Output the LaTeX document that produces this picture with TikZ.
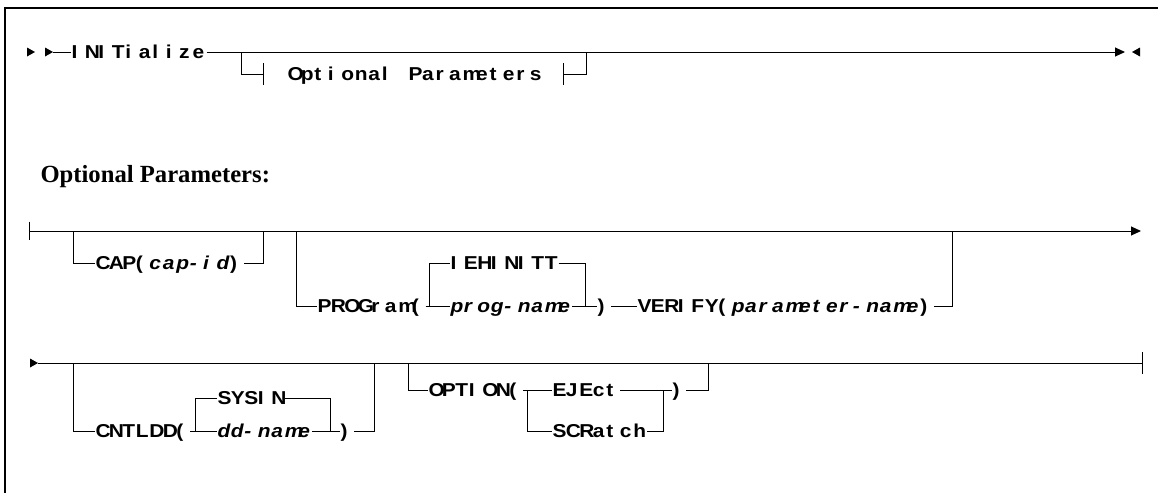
\documentclass[tikz,border=0pt]{standalone}
\usepackage{fontspec}
\newfontfamily\rrfont{Liberation Sans}[FakeStretch=1.12]
\newfontfamily\hdfont{Liberation Serif}
\usetikzlibrary{arrows.meta}

% fixed cells for the syntax words
\ExplSyntaxOn
\dim_new:N \l_rr_cell_dim
\dim_set:Nn \l_rr_cell_dim {10.1pt}
\cs_new_protected:Npn \rr_cell:n #1 { \makebox[\l_rr_cell_dim][l]{#1} }
\NewDocumentCommand \kw { m } { \tl_map_function:nN {#1} \rr_cell:n }
\NewDocumentCommand \kwi { m } { { \itshape \tl_map_function:nN {#1} \rr_cell:n } }
\ExplSyntaxOff

\tikzset{every picture/.style={line width=0.75pt}}
\tikzset{
  rtri/.pic={\fill (-8,-4.5) -- (0,0) -- (-8,4.5) -- cycle;},
  ltri/.pic={\fill (8,-4.5) -- (0,0) -- (8,4.5) -- cycle;},
}

\begin{document}
\begin{tikzpicture}[x=0.75pt,y=0.75pt,yscale=-1,xscale=1,
  kw/.style={anchor=west,inner sep=0pt,text height=10pt,text depth=0pt,font=\rrfont\bfseries\fontsize{14}{16}\selectfont},
  endtip/.style={-{Triangle[length=7.5pt,width=6.75pt]}}]
\useasboundingbox (0,0) rectangle (1158,493);

%Shape: Frame
\draw [line width=1.2pt] (5,493) -- (5,8) -- (1158,8) ;

%Main line
\coordinate (s1) at (53,52);
\coordinate (e1) at (1125,52);
\coordinate (q1) at (241,52);
\coordinate (q2) at (586,52);
\coordinate (ql) at (263,74);
\coordinate (qr) at (563,74);
\pic at ([xshift=-13.5pt]s1) {rtri};
\pic at (s1) {rtri};
\draw (71,52) node [kw] (init) {\kw{INITialize}};
\draw (s1) -- (init.west) ;
\draw [endtip] (init.east) -- (e1) ;
\pic at (1132,52) {ltri};
% fragment reference
\draw (287,74) node [kw] (opar) {\kw{Optional~Parameters}};
\draw (q1) |- (ql) ;
\draw (qr) -| (q2) ;
\draw ([yshift=-8pt]ql) -- ([yshift=8pt]ql) ;
\draw ([yshift=-8pt]qr) -- ([yshift=8pt]qr) ;

% Text Node
\draw (40,182) node [anchor=base west][inner sep=0pt][font=\hdfont\bfseries\fontsize{18.5}{20}\selectfont] (ophd) {Optional Parameters:};

%Fragment, first line
\coordinate (s2) at (29,231);
\coordinate (e2) at (1141,231);
\draw ([yshift=-7pt]s2) -- ([yshift=7pt]s2) ;
\draw [endtip] (s2) -- (e2) ;
% CAP
\coordinate (c1) at (73,231);
\coordinate (c2) at (263,231);
\draw (95,263) node [kw] (cap) {\kw{CAP(}\kwi{cap-id}\kw{)}};
\draw (c1) |- (cap.west) ;
\draw (cap.east) -| (c2) ;
% PROGram and VERIFY
\coordinate (p1) at (296,231);
\coordinate (p2) at (952,231);
\coordinate (pl) at (429,306);
\coordinate (pr) at (585,306);
\draw (317,306) node [kw] (prog) {\kw{PROGram(}};
\draw (450,263) node [kw] (ieh) {\kw{IEHINITT}};
\draw (450,306) node [kw] (pgn) {\kwi{prog-name}};
\draw (597,306) node [kw] (rpa) {\kw{)}};
\draw (637,306) node [kw] (ver) {\kw{VERIFY(}\kwi{parameter-name}\kw{)}};
\draw (p1) |- (prog.west) ;
\draw (prog.east) -- (pgn.west) ;
\draw (pl) |- (ieh.west) ;
\draw (ieh.east) -| (pr) ;
\draw (pgn.east) -- (rpa.west) ;
\draw (rpa.east) -- (ver.west) ;
\draw (ver.east) -| (p2) ;

%Fragment, second line
\coordinate (s3) at (38,363);
\coordinate (e3) at (1142,363);
\pic at (s3) {rtri};
\draw (s3) -- (e3) ;
\draw ([yshift=-8pt]e3) -- ([yshift=8pt]e3) ;
% CNTLDD
\coordinate (d1) at (73,363);
\coordinate (d2) at (374,363);
\coordinate (dl) at (195,431);
\coordinate (dr) at (330,431);
\draw (95,431) node [kw] (cnt) {\kw{CNTLDD(}};
\draw (217,398) node [kw] (sysin) {\kw{SYSIN}};
\draw (217,431) node [kw] (ddn) {\kwi{dd-name}};
\draw (340,431) node [kw] (rpb) {\kw{)}};
\draw (d1) |- (cnt.west) ;
\draw (cnt.east) -- (ddn.west) ;
\draw (dl) |- (sysin.west) ;
\draw (sysin.east) -| (dr) ;
\draw (ddn.east) -- (rpb.west) ;
\draw (rpb.east) -| (d2) ;
% OPTION
\coordinate (o1) at (408,363);
\coordinate (o2) at (708,363);
\coordinate (obl) at (527,390);
\coordinate (obr) at (663,390);
\draw (428,390) node [kw] (opt) {\kw{OPTION(}};
\draw (552,390) node [kw] (ejc) {\kw{EJEct}};
\draw (552,431) node [kw] (scr) {\kw{SCRatch}};
\draw (672,390) node [kw] (rpc) {\kw{)}};
\draw (o1) |- (opt.west) ;
\draw (opt.east) -- (ejc.west) ;
\draw (obl) |- (scr.west) ;
\draw (scr.east) -| (obr) ;
\draw (ejc.east) -- (rpc.west) ;
\draw (rpc.east) -| (o2) ;

\end{tikzpicture}
\end{document}
